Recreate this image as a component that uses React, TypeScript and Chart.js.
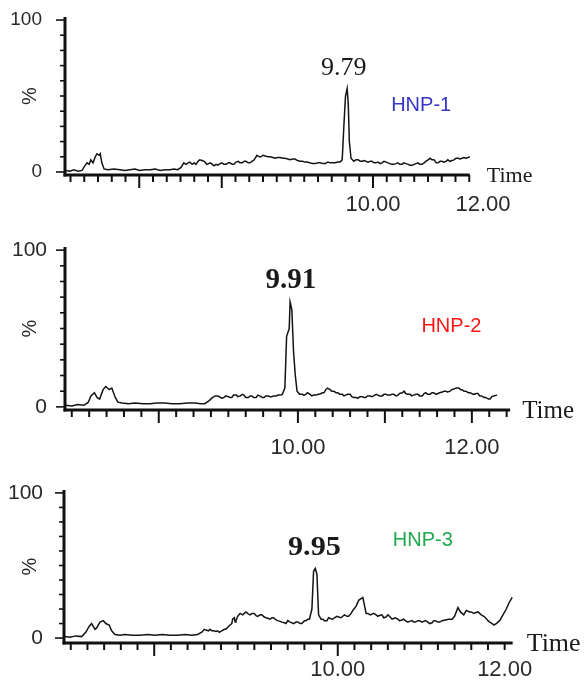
import React, { useEffect, useRef } from 'react';
import { Chart, registerables } from 'chart.js';

Chart.register(...registerables);

// ---------- data: [retention time (min), relative intensity (%)] ----------
const hnp1Trace: [number, number][] = [
  [4.42, 1], [4.49, 0.5], [4.56, 1.5], [4.64, 0.5], [4.71, 1], [4.76, 4], [4.80, 6], [4.84, 5], [4.87, 8], [4.91, 6],
  [4.95, 10], [4.98, 12], [5.02, 11], [5.04, 12], [5.07, 6], [5.11, 2], [5.18, 1.5], [5.29, 2], [5.40, 1.5], [5.49, 1],
  [5.58, 1.5], [5.67, 2], [5.76, 1], [5.85, 1.5], [5.95, 1.5], [6.04, 2], [6.13, 1], [6.22, 1.5], [6.31, 1.5], [6.38, 2],
  [6.45, 1.5], [6.51, 3], [6.56, 6], [6.60, 5], [6.64, 6], [6.67, 6.5], [6.71, 5], [6.75, 6], [6.78, 5], [6.82, 7],
  [6.85, 8], [6.89, 7.5], [6.93, 7], [6.98, 5], [7.04, 6], [7.08, 5], [7.11, 4], [7.15, 5], [7.18, 4.5], [7.22, 5.5],
  [7.25, 6], [7.29, 5], [7.33, 5], [7.37, 6], [7.40, 6], [7.44, 5], [7.47, 5], [7.51, 6.5], [7.55, 7], [7.58, 6],
  [7.62, 6], [7.66, 7], [7.69, 7], [7.73, 6], [7.76, 6], [7.80, 7], [7.84, 8], [7.89, 11], [7.93, 10], [7.96, 10],
  [8.00, 11], [8.04, 10.5], [8.09, 10], [8.13, 10], [8.18, 9.5], [8.22, 9], [8.27, 9.5], [8.31, 9.5], [8.36, 9], [8.40, 9],
  [8.45, 8.5], [8.49, 8], [8.54, 8.5], [8.58, 8.5], [8.63, 7.5], [8.67, 7], [8.72, 7], [8.76, 6.5], [8.80, 6.5], [8.85, 6],
  [8.90, 5.5], [8.95, 5.5], [9.00, 6], [9.04, 6], [9.09, 5.5], [9.13, 5.5], [9.18, 6.5], [9.22, 6], [9.27, 6], [9.31, 6],
  [9.36, 6.5], [9.40, 6.5], [9.44, 8], [9.47, 30], [9.50, 50], [9.53, 55], [9.55, 45], [9.57, 20], [9.60, 9], [9.65, 7],
  [9.69, 8], [9.73, 8], [9.77, 7], [9.80, 7], [9.84, 7.5], [9.87, 7], [9.91, 6.5], [9.95, 7], [9.98, 7], [10.02, 6],
  [10.05, 6], [10.09, 6.5], [10.13, 5.5], [10.16, 6], [10.20, 7], [10.24, 6.5], [10.27, 6], [10.31, 5.5], [10.34, 5], [10.38, 5],
  [10.42, 5.5], [10.45, 6], [10.49, 5], [10.53, 5], [10.56, 6], [10.60, 5.5], [10.64, 5], [10.67, 4.5], [10.71, 4.5], [10.75, 5],
  [10.78, 5.5], [10.82, 6], [10.85, 5], [10.89, 5], [10.93, 6], [10.96, 7], [11.00, 8], [11.04, 9], [11.07, 8], [11.11, 8],
  [11.15, 6], [11.18, 6], [11.22, 7], [11.25, 7], [11.29, 6.5], [11.33, 7], [11.36, 8], [11.40, 7], [11.44, 7.5], [11.47, 8],
  [11.51, 9], [11.55, 9], [11.58, 8.5], [11.62, 9], [11.65, 9.5], [11.69, 9], [11.73, 9.5], [11.76, 10],
];

const hnp2Trace: [number, number][] = [
  [7.33, 1], [7.40, 0.5], [7.47, 1.5], [7.54, 1], [7.59, 3], [7.62, 7], [7.66, 9], [7.69, 6], [7.72, 5], [7.76, 11],
  [7.79, 13], [7.83, 11], [7.86, 12], [7.90, 6], [7.93, 3], [7.98, 2.5], [8.05, 2], [8.13, 2.5], [8.22, 2], [8.30, 2],
  [8.38, 2.5], [8.47, 2.5], [8.55, 2], [8.64, 2], [8.73, 2.5], [8.82, 2.5], [8.88, 2], [8.93, 2], [8.98, 4], [9.02, 6],
  [9.05, 7], [9.08, 7], [9.11, 6], [9.13, 5.5], [9.15, 6], [9.17, 7], [9.20, 6.5], [9.22, 6], [9.24, 6], [9.26, 7.5],
  [9.29, 7.5], [9.31, 6.5], [9.34, 7], [9.36, 8], [9.38, 7.5], [9.40, 6], [9.43, 6], [9.45, 7], [9.47, 7], [9.49, 6],
  [9.52, 6], [9.54, 7.5], [9.56, 7], [9.59, 6], [9.61, 6], [9.63, 7], [9.66, 7], [9.68, 6.5], [9.70, 6.5], [9.72, 7],
  [9.75, 7], [9.77, 7.5], [9.80, 7.5], [9.82, 8], [9.85, 12], [9.87, 45], [9.90, 50], [9.91, 67], [9.93, 62], [9.95, 35],
  [9.97, 20], [9.99, 10], [10.02, 8], [10.05, 8], [10.07, 7.5], [10.09, 8], [10.11, 9], [10.14, 8], [10.16, 7], [10.18, 7.5],
  [10.21, 7.5], [10.23, 8], [10.25, 8], [10.28, 9], [10.30, 9], [10.32, 11], [10.34, 12], [10.37, 11], [10.39, 10], [10.41, 10],
  [10.44, 9], [10.46, 9], [10.48, 8], [10.51, 8], [10.53, 7], [10.55, 7.5], [10.57, 8], [10.60, 8], [10.62, 6.5], [10.64, 6],
  [10.67, 6], [10.69, 5.5], [10.71, 6.5], [10.74, 6.5], [10.76, 6], [10.78, 6], [10.80, 7], [10.83, 7], [10.85, 6.5], [10.87, 7],
  [10.90, 8], [10.92, 7.5], [10.94, 7], [10.97, 7], [10.99, 8], [11.01, 8], [11.03, 7.5], [11.06, 7.5], [11.08, 8], [11.10, 8],
  [11.13, 7], [11.15, 7.5], [11.17, 8.5], [11.20, 9], [11.22, 10], [11.24, 8.5], [11.26, 8], [11.29, 8], [11.31, 7], [11.33, 7.5],
  [11.36, 8], [11.38, 8], [11.40, 7], [11.43, 7], [11.45, 8.5], [11.47, 9], [11.49, 8], [11.52, 8], [11.54, 9], [11.56, 9],
  [11.59, 8], [11.61, 8.5], [11.63, 9], [11.66, 9.5], [11.68, 10], [11.70, 10], [11.72, 9.5], [11.75, 10], [11.77, 11], [11.80, 11.5],
  [11.82, 12], [11.85, 12], [11.87, 11], [11.89, 11], [11.91, 10], [11.93, 10], [11.96, 9], [11.98, 9], [12.02, 8], [12.05, 8.5],
  [12.07, 8.5], [12.09, 7], [12.11, 7], [12.14, 6], [12.16, 6], [12.19, 5], [12.21, 5], [12.23, 6.5], [12.25, 7], [12.29, 7.5],
];

const hnp3Trace: [number, number][] = [
  [6.73, 1], [6.79, 0.5], [6.86, 1.5], [6.93, 1], [6.98, 4], [7.02, 8], [7.05, 10], [7.09, 6], [7.11, 7], [7.15, 11],
  [7.19, 12], [7.22, 10], [7.26, 9], [7.29, 5], [7.33, 2.5], [7.39, 2], [7.45, 2.5], [7.54, 2], [7.63, 2], [7.72, 2.5],
  [7.81, 2], [7.90, 2.5], [7.99, 2], [8.08, 2], [8.17, 2.5], [8.25, 2], [8.32, 2.5], [8.37, 4], [8.40, 6], [8.42, 5.5],
  [8.45, 5], [8.47, 6], [8.49, 5], [8.51, 5], [8.54, 4.5], [8.56, 5], [8.58, 4], [8.61, 5], [8.64, 6], [8.66, 6],
  [8.69, 8], [8.71, 9], [8.73, 10], [8.74, 13], [8.76, 14], [8.77, 11], [8.78, 12], [8.80, 15], [8.83, 17], [8.86, 16],
  [8.88, 17], [8.90, 18], [8.93, 16.5], [8.95, 16], [8.97, 17], [9.00, 17], [9.02, 15.5], [9.04, 15], [9.07, 16], [9.09, 16],
  [9.12, 14.5], [9.14, 14], [9.17, 13.5], [9.19, 13], [9.21, 14], [9.23, 14], [9.26, 12.5], [9.28, 12], [9.31, 11.5], [9.33, 11],
  [9.36, 10.5], [9.38, 10], [9.40, 12], [9.43, 11], [9.45, 10.5], [9.47, 10], [9.50, 11], [9.52, 11], [9.55, 10], [9.57, 10],
  [9.60, 12], [9.62, 12], [9.64, 13], [9.66, 13], [9.69, 20], [9.71, 46], [9.73, 48], [9.75, 44], [9.77, 16], [9.80, 13],
  [9.82, 13], [9.84, 12], [9.87, 12], [9.89, 14], [9.91, 13.5], [9.94, 13], [9.96, 14], [9.99, 15], [10.01, 14.5], [10.04, 14],
  [10.06, 15], [10.08, 16], [10.11, 15], [10.13, 15], [10.16, 17], [10.18, 19], [10.22, 22], [10.25, 26], [10.30, 28], [10.34, 17],
  [10.36, 17], [10.39, 16], [10.41, 16.5], [10.43, 17], [10.46, 16], [10.48, 15], [10.50, 15.5], [10.53, 16], [10.55, 14], [10.58, 14.5],
  [10.60, 16], [10.62, 15], [10.65, 13], [10.67, 13.5], [10.69, 14], [10.72, 13], [10.74, 12], [10.77, 12.5], [10.79, 13], [10.81, 12],
  [10.84, 11], [10.86, 11.5], [10.89, 12], [10.91, 11], [10.93, 11], [10.96, 12], [10.98, 12], [11.01, 11], [11.03, 11.5], [11.05, 12],
  [11.08, 11], [11.10, 10], [11.13, 10.5], [11.15, 12], [11.17, 12], [11.20, 11], [11.22, 11], [11.25, 12], [11.29, 12.5], [11.33, 13],
  [11.37, 13], [11.40, 15], [11.44, 21], [11.47, 18], [11.51, 16], [11.54, 19], [11.58, 18], [11.60, 18], [11.63, 17], [11.65, 17.5],
  [11.68, 18], [11.70, 17], [11.72, 16], [11.75, 15], [11.77, 14], [11.80, 12], [11.82, 11], [11.85, 10], [11.87, 9], [11.90, 10],
  [11.94, 12], [11.98, 16], [12.02, 20], [12.05, 24], [12.09, 28],
];

// tick values
const xLabelTicks = [10, 12];
const yLabelTicks = [0, 100];
const yMinorTicks = [0, 10, 20, 30, 40, 50, 60, 70, 80, 90, 100];
const hnp1MajorTicks = [5.75, 7.25, 10];
const hnp2MajorTicks = [8.4, 10, 11, 12];
const hnp3MajorTicks = [7.8, 10];

// peak annotations
const peakLabels = ['9.79', '9.91', '9.95'];
const sampleNames = ['HNP-1', 'HNP-2', 'HNP-3'];

type Panel = {
  top: number; height: number;
  trace: [number, number][];
  xMin: number; xMax: number; axisEnd: number;
  yMin: number; yMax: number;
  padTop: number; padRight: number; xAxisH: number; yAxisW: number;
  minorStart: number; minorStep: number; majors: number[];
  peak: string; peakT: number; peakV: number; peakFont: string; peakSX: number;
  name: string; nameColor: string; nameT: number; nameV: number; nameFont: string;
  timeFont: string; timeGap: number;
  xTickSize: number; xTickPad: number; yTickSize: number; yTickPad: number; pctPad: number;
};

const SANS = "'Liberation Sans', Arial, sans-serif";
const SERIF = "'Liberation Serif', 'Times New Roman', serif";

const panels: Panel[] = [
  {
    top: 0, height: 230, trace: hnp1Trace,
    xMin: 4.40, xMax: 12.0, axisEnd: 11.76, yMin: -2, yMax: 102,
    padTop: 17, padRight: 103, xAxisH: 55, yAxisW: 65,
    minorStart: 4.5, minorStep: 0.25, majors: hnp1MajorTicks,
    peak: peakLabels[0], peakT: 9.47, peakV: 64, peakFont: `26px ${SERIF}`, peakSX: 1,
    name: sampleNames[0], nameColor: '#3535c8', nameT: 10.33, nameV: 44, nameFont: `20px ${SANS}`,
    timeFont: `22px ${SERIF}`, timeGap: 17,
    xTickSize: 22, xTickPad: 9, yTickSize: 19, yTickPad: 15, pctPad: 18,
  },
  {
    top: 230, height: 230, trace: hnp2Trace,
    xMin: 7.322, xMax: 12.45, axisEnd: 12.44, yMin: -2, yMax: 102,
    padTop: 17, padRight: 75, xAxisH: 50, yAxisW: 65,
    minorStart: 7.4, minorStep: 0.2, majors: hnp2MajorTicks,
    peak: peakLabels[1], peakT: 9.92, peakV: 76, peakFont: `bold 29px ${SERIF}`, peakSX: 1,
    name: sampleNames[1], nameColor: '#ff1414', nameT: 11.42, nameV: 51, nameFont: `20px ${SANS}`,
    timeFont: `25px ${SERIF}`, timeGap: 12,
    xTickSize: 22, xTickPad: 17, yTickSize: 21, yTickPad: 10, pctPad: 18,
  },
  {
    top: 460, height: 233, trace: hnp3Trace,
    xMin: 6.719, xMax: 12.1, axisEnd: 12.096, yMin: -3.4, yMax: 102,
    padTop: 30, padRight: 73, xAxisH: 50, yAxisW: 64,
    minorStart: 6.8, minorStep: 0.2, majors: hnp3MajorTicks,
    peak: peakLabels[2], peakT: 9.72, peakV: 57, peakFont: `bold 27px ${SERIF}`, peakSX: 1.12,
    name: sampleNames[2], nameColor: '#1fa94d', nameT: 10.66, nameV: 67, nameFont: `20px ${SANS}`,
    timeFont: `26px ${SERIF}`, timeGap: 14,
    xTickSize: 22, xTickPad: 6, yTickSize: 21, yTickPad: 13, pctPad: 18,
  },
];

function makeDecor(p: Panel) {
  return {
    id: 'decor',
    afterDraw(chart: any) {
      const xs = chart.scales.x;
      const ys = chart.scales.y;
      const ctx: CanvasRenderingContext2D = chart.ctx;
      const left = chart.chartArea.left;
      const bottom = ys.getPixelForValue(p.yMin);
      const line = (x1: number, y1: number, x2: number, y2: number) => {
        ctx.beginPath(); ctx.moveTo(x1, y1); ctx.lineTo(x2, y2); ctx.stroke();
      };
      ctx.save();
      ctx.strokeStyle = '#111';
      ctx.lineWidth = 3;
      line(left, ys.getPixelForValue(p.yMax), left, bottom + 1.5);
      line(left - 1.5, bottom, xs.getPixelForValue(p.axisEnd), bottom);
      ctx.lineWidth = 1.6;
      yMinorTicks.forEach((v) => {
        const y = ys.getPixelForValue(v);
        const len = v === 0 || v === 100 ? 9 : 5;
        line(left - len, y, left, y);
      });
      const n = Math.floor((p.axisEnd - p.minorStart) / p.minorStep + 1e-6);
      ctx.lineWidth = 2;
      for (let i = 0; i <= n; i++) {
        const t = p.minorStart + i * p.minorStep;
        const major = p.majors.some((m) => Math.abs(m - t) < 1e-6);
        const x = xs.getPixelForValue(t);
        line(x, bottom, x, bottom + (major ? 13 : 7));
      }
      // text annotations
      ctx.fillStyle = '#1a1a1a';
      ctx.font = p.timeFont;
      ctx.textAlign = 'left';
      ctx.textBaseline = 'middle';
      ctx.fillText('Time', xs.getPixelForValue(p.axisEnd) + p.timeGap, bottom + 1);
      ctx.font = p.peakFont;
      ctx.textAlign = 'center';
      ctx.textBaseline = 'alphabetic';
      const px = xs.getPixelForValue(p.peakT);
      const py = ys.getPixelForValue(p.peakV);
      ctx.save();
      ctx.translate(px, py);
      ctx.scale(p.peakSX, 1);
      ctx.fillText(p.peak, 0, 0);
      ctx.restore();
      ctx.font = p.nameFont;
      ctx.fillStyle = p.nameColor;
      ctx.textAlign = 'left';
      ctx.textBaseline = 'middle';
      ctx.fillText(p.name, xs.getPixelForValue(p.nameT), ys.getPixelForValue(p.nameV));
      ctx.restore();
    },
  };
}

function buildConfig(p: Panel): any {
  return {
    type: 'line',
    data: {
      datasets: [
        {
          data: p.trace.map(([t, v]) => ({ x: t, y: v })),
          borderColor: '#141414',
          borderWidth: 1.5,
          pointRadius: 0,
          tension: 0,
          fill: false,
        },
      ],
    },
    options: {
      responsive: false,
      animation: false,
      devicePixelRatio: 1,
      layout: { padding: { top: p.padTop, right: p.padRight, left: 0, bottom: 0 } },
      plugins: { legend: { display: false }, tooltip: { enabled: false } },
      scales: {
        x: {
          type: 'linear',
          min: p.xMin,
          max: p.xMax,
          grid: { display: false },
          border: { display: false },
          afterFit: (s: any) => { s.height = p.xAxisH; s.paddingLeft = 0; s.paddingRight = 0; },
          afterBuildTicks: (s: any) => { s.ticks = xLabelTicks.map((v) => ({ value: v })); },
          ticks: {
            autoSkip: false,
            maxRotation: 0,
            minRotation: 0,
            padding: p.xTickPad,
            color: '#2a2a2a',
            font: { family: SANS, size: p.xTickSize },
            callback: (v: any) => Number(v).toFixed(2),
          },
        },
        y: {
          type: 'linear',
          min: p.yMin,
          max: p.yMax,
          grid: { display: false },
          border: { display: false },
          afterFit: (s: any) => { s.width = p.yAxisW; s.paddingTop = 0; s.paddingBottom = 0; },
          afterBuildTicks: (s: any) => { s.ticks = yLabelTicks.map((v) => ({ value: v })); },
          ticks: {
            padding: p.yTickPad,
            color: '#2a2a2a',
            font: { family: SANS, size: p.yTickSize },
            callback: (v: any) => String(v),
          },
          title: {
            display: true,
            text: '%',
            color: '#2a2a2a',
            font: { family: SANS, size: 20 },
            padding: { top: p.pctPad, bottom: 0 },
          },
        },
      },
    },
    plugins: [makeDecor(p)],
  };
}

export default function App() {
  const r1 = useRef<HTMLCanvasElement>(null);
  const r2 = useRef<HTMLCanvasElement>(null);
  const r3 = useRef<HTMLCanvasElement>(null);

  useEffect(() => {
    const refs = [r1, r2, r3];
    const charts = panels.map((p, i) => new Chart(refs[i].current as HTMLCanvasElement, buildConfig(p)));
    return () => charts.forEach((c) => c.destroy());
  }, []);

  const refs = [r1, r2, r3];
  return (
    <div style={{ position: 'absolute', left: 0, top: 0, width: 586, height: 693, background: '#fff', overflow: 'hidden' }}>
      {panels.map((p, i) => (
        <canvas
          key={i}
          ref={refs[i]}
          width={586}
          height={p.height}
          style={{ position: 'absolute', left: 0, top: p.top, width: 586, height: p.height, display: 'block' }}
        />
      ))}
    </div>
  );
}
